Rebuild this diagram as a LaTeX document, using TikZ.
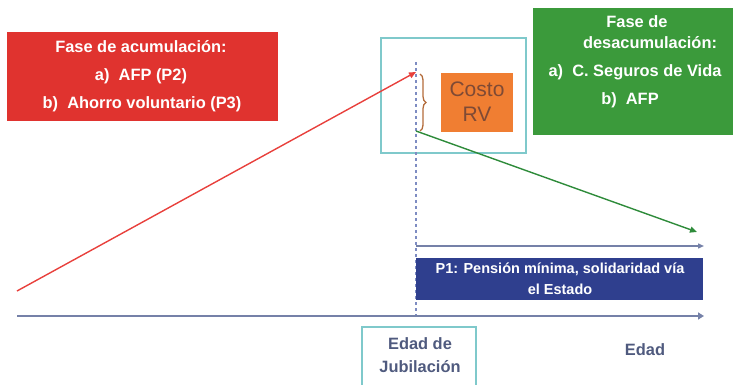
\documentclass[tikz,border=0pt]{standalone}
\usepackage{fontspec}
\setmainfont{Liberation Sans}
\usetikzlibrary{arrows.meta,decorations.pathreplacing}
\definecolor{cred}{HTML}{E0332F}
\definecolor{cgreen}{HTML}{3B9A3B}
\definecolor{cteal}{HTML}{7FC9CB}
\definecolor{corange}{HTML}{F07E32}
\definecolor{cbrace}{HTML}{B36B3A}
\definecolor{cblue}{HTML}{2F3F8E}
\definecolor{caxis}{HTML}{7581A8}
\definecolor{cdash}{HTML}{7E8CC2}
\definecolor{ctext}{HTML}{4F5A7E}
\definecolor{ccosto}{HTML}{7F4A35}
\definecolor{carrred}{HTML}{E8403C}
\definecolor{carrgreen}{HTML}{2E8B3A}
\tikzset{
  lbl/.style={inner sep=0pt, outer sep=0pt, text=white, font=\bfseries\fontsize{16.4}{19}\selectfont},
  tealbox/.style={draw=cteal, line width=1.4pt, fill=none},
  arr/.style={-{Triangle[width=6pt,length=7pt]}, line width=1.4pt},
}
\begin{document}
\begin{tikzpicture}[x=1pt,y=-1pt]
\useasboundingbox (0,0) rectangle (737,385);
% teal box around costo
\draw[tealbox] (381,38) rectangle (526,153);
% red box
\fill[cred] (7,32) rectangle (278,121);
\node[lbl] (r1) at (141,47) {Fase de acumulación:};
\node[lbl] (r2) at (141,76) {a)\ \ AFP (P2)};
\node[lbl] (r3) at (142,104) {b)\ \ Ahorro voluntario (P3)};
% green box
\fill[cgreen] (533,8) rectangle (733,135);
\node[lbl] (g1) at (637,22) {Fase de};
\node[lbl] (g2) at (650,43) {desacumulación:};
\node[lbl] (g3) at (635,72) {a)\ \ C. Seguros de Vida};
\node[lbl] (g4) at (630,100) {b)\ \ AFP};
% orange
\fill[corange] (441,73) rectangle (513,132);
\node[font=\fontsize{21}{25}\selectfont, text=ccosto, align=center] (costo) at (477,102) {Costo\\RV};
% dashed vertical
\coordinate (top) at (416,62);
\coordinate (bot) at (416,318);
\draw[cdash, line width=1.2pt, dash pattern=on 3pt off 3pt] (top) -- (bot);
% brace
\draw[cbrace, line width=1.3pt, decorate, decoration={brace, amplitude=6pt}] (420,74) -- (420,131);
% red arrow
\coordinate (rs) at (17,291);
\coordinate (re) at (416,72);
\draw[arr, carrred] (rs) -- (re);
% green arrow
\coordinate (gs) at (416,131);
\coordinate (ge) at (697,232);
\draw[arr, carrgreen] (gs) -- (ge);
% P1 arrow
\coordinate (ps) at (416,246);
\coordinate (pe) at (704,246);
\draw[arr, caxis, -{Triangle[width=5pt,length=6pt]}] (ps) -- (pe);
% blue box
\fill[cblue] (416,258) rectangle (703,300);
\node[lbl, font=\bfseries\fontsize{14.5}{17}\selectfont] (p1a) at (560,269) {P1: Pensión mínima, solidaridad vía};
\node[lbl, font=\bfseries\fontsize{14.5}{17}\selectfont] (p1b) at (560,289) {el Estado};
% axis
\coordinate (as) at (17,316);
\coordinate (ae) at (704,316);
\draw[arr, caxis, line width=2.4pt, -{Triangle[width=7pt,length=6pt]}] (as) -- (ae);
% jubilacion box
\draw[tealbox] (362,327) rectangle (476,390);
\node[lbl, text=ctext] (jub1) at (420,344) {Edad de};
\node[lbl, text=ctext] (jub2) at (420,367) {Jubilación};
\node[lbl, text=ctext] (edad) at (645,350) {Edad};
\end{tikzpicture}
\end{document}
